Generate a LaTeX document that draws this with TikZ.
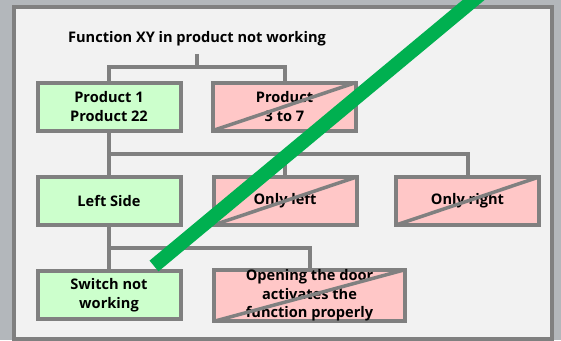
\documentclass[tikz,border=0pt]{standalone}
\usepackage{fontspec}
\setmainfont{Open Sans}
\definecolor{pagegray}{HTML}{B3B7BB}
\definecolor{panelgray}{HTML}{F2F2F2}
\definecolor{boxgray}{HTML}{808080}
\definecolor{okgreen}{HTML}{CCFFCC}
\definecolor{nokred}{HTML}{FFC7C7}
\definecolor{stripegreen}{HTML}{00B050}
\begin{document}
\begin{tikzpicture}[x=1pt,y=-1pt,
  font=\bfseries\fontsize{14.6}{18.5}\selectfont,
  box/.style={draw=boxgray, line width=4pt, outer sep=0pt, inner sep=0pt,
    minimum width=143pt, minimum height=48pt, align=center},
  ok/.style={box, fill=okgreen},
  nok/.style={box, fill=nokred},
  link/.style={draw=boxgray, line width=4pt},
  cross/.style={draw=boxgray, line width=3.5pt}]
\clip (0,0) rectangle (561,340);
\fill[pagegray] (0,0) rectangle (561,340);
\draw[boxgray, line width=4pt, fill=panelgray] (14,7) rectangle (552,339);

\node (title) at (197,39) {Function XY in product not working};

\node[ok] (p1) at (109,106.5) {Product 1\\Product 22};
\node[nok] (p37) at (284.5,106.5) {Product\\3 to 7};
\node[ok] (left) at (109,201) {Left Side};
\node[nok] (onlyleft) at (285,201) {Only left};
\node[nok] (onlyright) at (467.5,201) {Only right};
\node[ok] (switch) at (109,295) {Switch not\\working};
\node[nok, minimum width=191pt] (door) at (309.5,295.5) {Opening the door\\activates the\\function properly};

\coordinate (j1) at (197,67);
\coordinate (j2) at (109,154);
\coordinate (j3) at (109,248);
\draw[link] ([yshift=-4pt]title.south) -- (j1);
\draw[link] (p1.north) |- (j1) -| (p37.north);
\draw[link] (p1.south) -- (left.north);
\draw[link] (j2) -| (onlyleft.north);
\draw[link] (j2) -| (onlyright.north);
\draw[link] (left.south) -- (switch.north);
\draw[link] (j3) -| (door.north);

\draw[cross] (p37.south west) -- (p37.north east);
\draw[cross] (onlyleft.south west) -- (onlyleft.north east);
\draw[cross] (onlyright.south west) -- (onlyright.north east);
\draw[cross] (door.south west) -- (door.north east);

\draw[stripegreen, line width=14pt] (154,266) -- (494,-17);
\end{tikzpicture}
\end{document}
